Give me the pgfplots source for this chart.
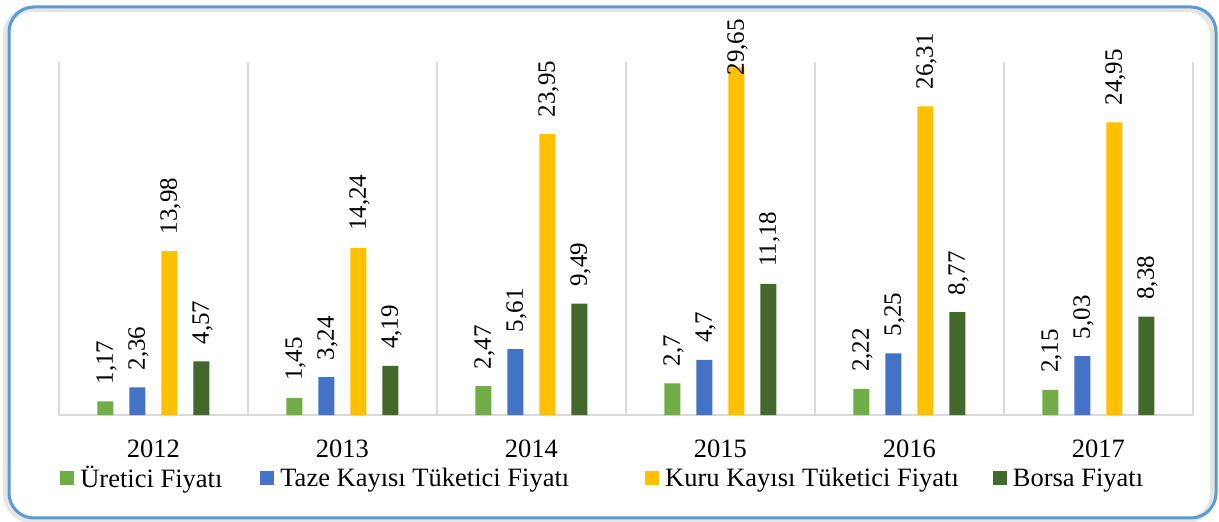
\documentclass[border=0pt]{standalone}
\usepackage{fontspec}
\setmainfont{Liberation Serif}
\usepackage{pgfplots}
\usepackage{pgfplotstable}
\pgfplotsset{compat=1.18}
\pgfplotsset{/pgf/number format/assume math mode=true}

\definecolor{cGreen}{HTML}{70AD47}
\definecolor{cBlue}{HTML}{4472C4}
\definecolor{cYellow}{HTML}{FFC000}
\definecolor{cDark}{HTML}{43682B}
\definecolor{cGrid}{HTML}{D9D9D9}
\definecolor{cBorder}{HTML}{5B9BD5}

\pgfplotstableread{
x uretici taze kuru borsa
0 1.17 2.36 13.98 4.57
1 1.45 3.24 14.24 4.19
2 2.47 5.61 23.95 9.49
3 2.7 4.7 29.65 11.18
4 2.22 5.25 26.31 8.77
5 2.15 5.03 24.95 8.38
}\datatable

\begin{document}
\begin{tikzpicture}
\path[use as bounding box] (0,0) rectangle (1219bp,522bp);
\draw[black!10, line width=6bp, rounded corners=26bp] (6bp,2bp) rectangle (1213bp,513bp);
\draw[cBorder, line width=3bp, rounded corners=25bp] (9bp,4bp) rectangle (1216bp,515bp);
\begin{axis}[
  at={(59bp,107bp)}, anchor=south west,
  scale only axis, width=1134bp, height=353bp,
  clip=false,
  ybar=16bp, bar width=16bp,
  xmin=-0.5, xmax=5.5, ymin=0, ymax=30.1,
  enlargelimits=false,
  axis x line*=bottom,
  axis y line=none,
  x axis line style={cGrid, line width=1.5bp},
  xtick={0,1,2,3,4,5},
  xticklabels={2012,2013,2014,2015,2016,2017},
  minor xtick={-0.5,0.5,1.5,2.5,3.5,4.5,5.5},
  xminorgrids=true,
  minor grid style={cGrid, line width=1.5bp},
  major tick length=0pt, minor tick length=0pt,
  ytick=\empty,
  xticklabel style={font=\fontsize{26.5bp}{30bp}\selectfont, inner sep=0pt, yshift=-25bp},
  /pgf/number format/use comma,
  nodes near coords={\kern17bp\pgfmathprintnumber{\pgfplotspointmeta}},
  every node near coord/.append style={font=\fontsize{25bp}{28bp}\selectfont, rotate=90, anchor=west, inner ysep=0pt, inner xsep=0pt, outer sep=0pt, yshift=-1bp, black},
  legend columns=4,
  legend image code/.code={\fill[#1] (0bp,-7bp) rectangle (14bp,7bp);},
  legend style={at={(0.001,-0.1785)}, anchor=west, draw=none, fill=none, inner sep=0pt,
    font=\fontsize{26.5bp}{30bp}\selectfont,
    nodes={inner sep=0pt},
    /tikz/column 1/.style={column sep=6bp},
    /tikz/column 2/.style={column sep=38bp},
    /tikz/column 3/.style={column sep=6bp},
    /tikz/column 4/.style={column sep=76bp},
    /tikz/column 5/.style={column sep=6bp},
    /tikz/column 6/.style={column sep=34bp},
    /tikz/column 7/.style={column sep=6bp}},
]
\addplot[fill=cGreen, draw=none] table[x=x, y=uretici] {\datatable};
\addlegendentry{Üretici Fiyatı}
\addplot[fill=cBlue, draw=none] table[x=x, y=taze] {\datatable};
\addlegendentry{Taze Kayısı Tüketici Fiyatı}
\addplot[fill=cYellow, draw=none,
  nodes near coords={\ifdim\pgfplotspointmetatransformed pt>999pt\kern-8bp\else\kern17bp\fi\pgfmathprintnumber{\pgfplotspointmeta}}] table[x=x, y=kuru] {\datatable};
\addlegendentry{Kuru Kayısı Tüketici Fiyatı}
\addplot[fill=cDark, draw=none] table[x=x, y=borsa] {\datatable};
\addlegendentry{Borsa Fiyatı}
\end{axis}
\end{tikzpicture}
\end{document}
